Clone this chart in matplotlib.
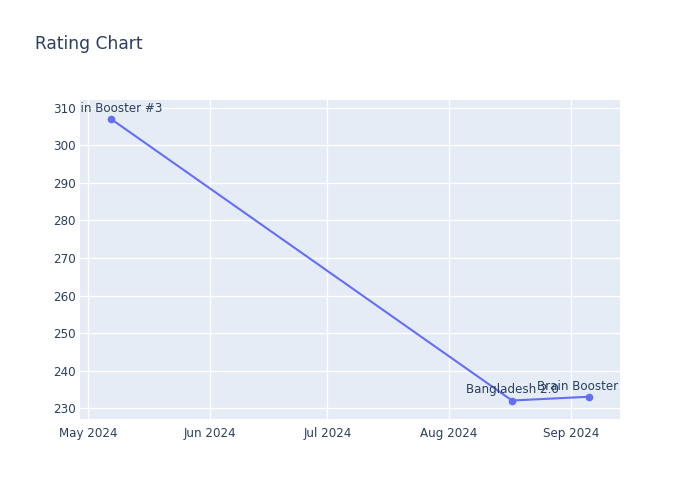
import matplotlib
matplotlib.use("Agg")
import matplotlib.pyplot as plt
import matplotlib.dates as mdates
import numpy as np
from datetime import datetime

dates = ["2024-05-07", "2024-08-17", "2024-09-05T12:00"]
ratings = [307, 232, 233]
labels = ["Brain Booster #3", "Bangladesh 2.0", "Brain Booster #4"]
yticks = [230, 240, 250, 260, 270, 280, 290, 300, 310]
xtick_dates = ["2024-05-01", "2024-06-01", "2024-07-01", "2024-08-01", "2024-09-01"]
xtick_labels = ["May 2024", "Jun 2024", "Jul 2024", "Aug 2024", "Sep 2024"]

TXT = "#2a3f5f"
LINE = "#636EFA"
BG = "#E5ECF6"

fig = plt.figure(figsize=(7, 5), dpi=100)
ax = fig.add_axes([80/700, 81/500, 540/700, 319/500])
ax.set_facecolor(BG)

x = [datetime.fromisoformat(d) for d in dates]
xn = mdates.date2num(x)
ax.plot(xn, ratings, color=LINE, lw=1.5, marker="o", ms=4.5, zorder=3, clip_on=False)
for xi, yi, lab in zip(xn, ratings, labels):
    ax.annotate(lab, (xi, yi), xytext=(0, 3), textcoords="offset points",
                ha="center", va="bottom", fontsize=8.6, color=TXT,
                clip_on=True, annotation_clip=False, zorder=4)

ax.set_xlim(mdates.date2num(datetime(2024, 4, 29)), mdates.date2num(datetime(2024, 9, 13, 12)))
ax.set_ylim(227.07, 312.13)
ax.set_yticks(yticks)
ax.set_xticks([mdates.date2num(datetime.fromisoformat(d)) for d in xtick_dates])
ax.set_xticklabels(xtick_labels)
ax.grid(True, color="white", lw=1)
ax.set_axisbelow(True)
for s in ax.spines.values():
    s.set_visible(False)
ax.tick_params(length=0, colors=TXT, labelsize=8.6, pad=6)
ax.tick_params(axis="y", pad=3)

fig.text(35/700, 1 - 44/500, "Rating Chart", fontsize=12.3, color=TXT, va="center", ha="left")

# clip annotations to the axes area
for t in ax.texts:
    t.set_clip_path(ax.patch)

fig.savefig("out.png", dpi=100, facecolor="white")
